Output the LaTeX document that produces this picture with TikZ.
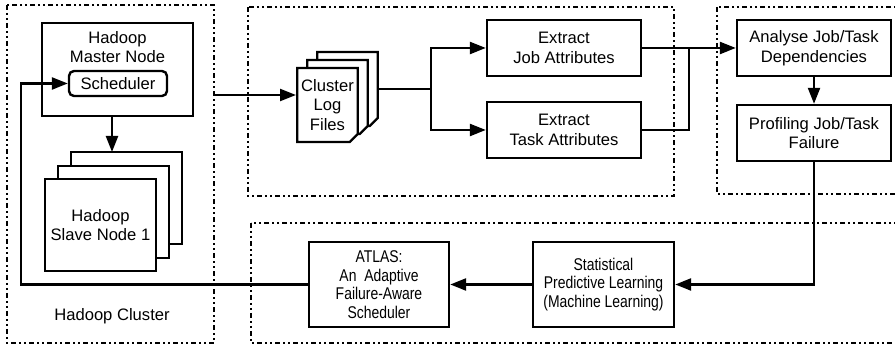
\documentclass[tikz,border=0pt]{standalone}
\usepackage{fontspec}
\setmainfont{Liberation Sans}
\newfontfamily\narrowsf[FakeStretch=0.82]{Liberation Sans}
\usetikzlibrary{calc}
\usetikzlibrary{arrows.meta}
\usetikzlibrary{shadows}
\usetikzlibrary{shapes.misc}

\begin{document}
\begin{tikzpicture} [x=1pt, y=-1pt,
  box/.style={draw, line width=2.4pt, fill=white, align=center, inner sep=0pt},
  group/.style={draw, line width=2pt, dash pattern=on 5pt off 3pt on 2pt off 3pt on 2pt off 3pt},
  conn/.style={line width=2.3pt, -{Triangle[length=16pt,width=12pt]}}
]
\useasboundingbox (0,0) rectangle (895,347);
\fontsize{16.6}{19.5}\selectfont

% dotted groups
\draw[group] (7,5) rectangle (214,343);
\draw[group] (248,7) rectangle (674,196);
\draw[group] (717,7) rectangle (905,194);
\draw[group] (251,223) rectangle (905,343);
\node (cluster) at (112,316) {Hadoop Cluster};

% hadoop cluster
\node[box, minimum width=151, minimum height=93,
  label={[anchor=north, inner sep=0pt, yshift=-9pt, align=center]north:Hadoop\\Master Node}]
  (master) at (117.5,69.5) {};
\node[box, rounded corners=5pt, minimum width=98, minimum height=25] (sched) at (118,83.5) {Scheduler};
\node[box, minimum width=111, minimum height=92,
  copy shadow={shadow xshift=26pt, shadow yshift=27pt, line width=2.4pt},
  copy shadow={shadow xshift=13pt, shadow yshift=13pt, line width=2.4pt}]
  (slave) at (100.5,225) {Hadoop\\Slave Node 1};

% log files and extraction
\node[box, chamfered rectangle, chamfered rectangle corners=south east, chamfered rectangle xsep=4pt,
  chamfered rectangle ysep=4pt, minimum width=59, minimum height=74,
  copy shadow={shadow xshift=20pt, shadow yshift=16pt, line width=2.4pt},
  copy shadow={shadow xshift=10pt, shadow yshift=8pt, line width=2.4pt}]
  (logs) at (327.5,105) {Cluster\\Log\\Files};
\node[box, minimum width=154, minimum height=56] (jobx) at (564,48) {Extract\\Job Attributes};
\node[box, minimum width=154, minimum height=56] (taskx) at (564,130) {Extract\\Task Attributes};

% analysis
\node[box, minimum width=154, minimum height=56] (deps) at (814,48) {Analyse Job/Task\\Dependencies};
\node[box, minimum width=154, minimum height=56] (prof) at (814,133) {Profiling Job/Task\\Failure};

% learning
\node[box, minimum width=141, minimum height=85, font=\narrowsf\fontsize{17}{18.7}\selectfont] (stat) at (603.5,284.5)
  {Statistical\\Predictive Learning\\(Machine Learning)};
\node[box, minimum width=140, minimum height=85, font=\narrowsf\fontsize{17}{18.7}\selectfont] (atlas) at (379,284.5)
  {ATLAS:\\An~ Adaptive\\Failure-Aware\\Scheduler};

\coordinate (tap) at (214,95);
\coordinate (split) at (431,89);
\coordinate (merge) at (689,48);
\coordinate (slavetop) at (112,152);
\coordinate (back) at (21,284.5);

\draw[conn] (tap) -- (logs.west |- tap);
\draw[line width=2.3pt] ($(logs.east)+(20,-16)$) -- (split);
\draw[conn] (split) |- (jobx);
\draw[conn] (split) |- (taskx);
\draw[conn] (jobx) -- (deps);
\draw[line width=2.3pt] (taskx) -| (merge);
\draw[conn] (deps) -- (prof);
\draw[conn] (prof) |- (stat);
\draw[conn] (stat) -- (atlas);
\draw[conn] (atlas) -- (back) |- (sched);
\draw[conn] (master.south -| slavetop) -- (slavetop);

\end{tikzpicture}
\end{document}
